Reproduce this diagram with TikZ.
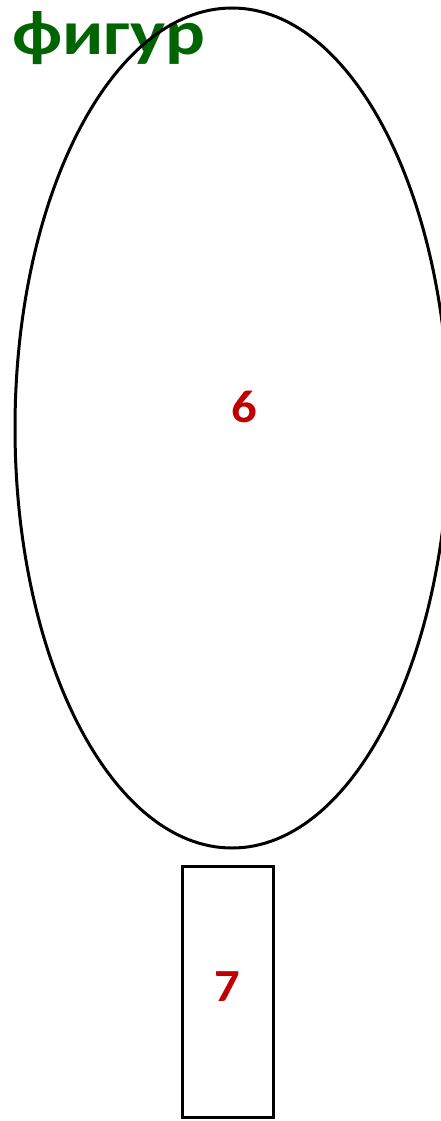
\documentclass[tikz,border=0pt]{standalone}
\usepackage{fontspec}
\setmainfont{Carlito}
\usetikzlibrary{shapes.geometric}
\definecolor{titlegreen}{RGB}{0,100,0}
\definecolor{numred}{RGB}{192,0,0}
\tikzset{
  shapeline/.style={draw=black, line width=3pt},
  numlabel/.style={text=numred, font=\bfseries\fontsize{46}{46}\selectfont, inner sep=0pt},
}
\newcommand{\wide}[2]{\scalebox{#1}[1]{#2}}
\begin{document}
\begin{tikzpicture}[x=1pt,y=-1pt]
\useasboundingbox (0,0) rectangle (441,1121);
\clip (0,0) rectangle (441,1121);
\fill[white] (0,0) rectangle (441,1121);
\node[anchor=base west, inner sep=0pt, text=titlegreen, font=\bfseries\fontsize{63}{63}\selectfont] (t) at (12,55) {\wide{1.18}{фигур}};
\node[shapeline, ellipse, minimum width=434pt, minimum height=840pt, inner sep=0pt] (e) at (232,428) {};
\node[shapeline, rectangle, minimum width=91pt, minimum height=251pt, inner sep=0pt] (r) at (227.5,991.5) {};
\node[numlabel] (n6) at (244,407) {\wide{1.1}{6}};
\node[numlabel] (n7) at (227.5,987) {\wide{1.1}{7}};
\end{tikzpicture}
\end{document}
